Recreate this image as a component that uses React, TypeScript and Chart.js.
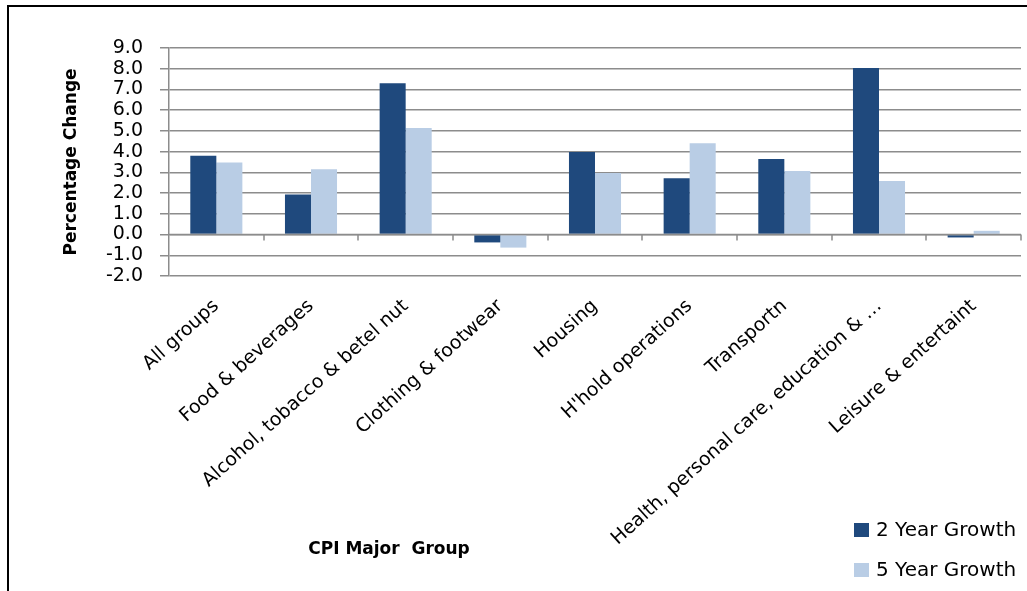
import React, { useEffect, useRef } from "react";
import { Chart, registerables } from "chart.js";

Chart.register(...registerables);

const categories = [
  "All groups",
  "Food & beverages",
  "Alcohol, tobacco & betel nut",
  "Clothing & footwear",
  "Housing",
  "H'hold operations",
  "Transportn",
  "Health, personal care, education & …",
  "Leisure & entertaint",
];
const growth2Year = [3.8, 1.93, 7.3, -0.38, 3.98, 2.72, 3.64, 8.04, -0.14];
const growth5Year = [3.47, 3.15, 5.14, -0.63, 2.97, 4.41, 3.06, 2.58, 0.18];
const seriesNames = ["2 Year Growth", "5 Year Growth"];
const seriesColors = ["#1F497D", "#B9CDE5"];
const yMin = -2;
const yMax = 9;
const yStep = 1;
const xTitle = "CPI Major  Group";
const yTitle = "Percentage Change";

const FONT = "'DejaVu Sans', sans-serif";

const extrasPlugin = {
  id: "extras",
  afterDatasetsDraw(chart: any) {
    const ctx = chart.ctx;
    const xs = chart.scales.x;
    const ys = chart.scales.y;
    const y0 = ys.getPixelForValue(0);
    const n = categories.length;
    const w = (xs.right - xs.left) / n;
    ctx.save();
    ctx.strokeStyle = "#8c8c8c";
    ctx.lineWidth = 1.5;
    ctx.beginPath();
    ctx.moveTo(xs.left, y0);
    ctx.lineTo(xs.right, y0);
    for (let i = 1; i <= n; i++) {
      const x = Math.round(xs.left + i * w);
      ctx.moveTo(x, y0);
      ctx.lineTo(x, y0 + 6);
    }
    ctx.stroke();
    ctx.restore();
  },
  afterDraw(chart: any) {
    const ctx = chart.ctx;
    ctx.save();
    ctx.fillStyle = "#000";
    ctx.font = `bold 17px ${FONT}`;
    ctx.textAlign = "center";
    ctx.textBaseline = "middle";
    ctx.fillText(xTitle, 389, 550);
    ctx.font = `20px ${FONT}`;
    ctx.textAlign = "left";
    seriesNames.forEach((name, i) => {
      const cy = 530 + i * 40;
      ctx.fillStyle = seriesColors[i];
      ctx.fillRect(854, cy - 7, 15, 14);
      ctx.fillStyle = "#000";
      ctx.fillText(name, 876, cy + 1);
    });
    ctx.restore();
  },
};

export default function App() {
  const ref = useRef<HTMLCanvasElement | null>(null);

  useEffect(() => {
    if (!ref.current) return;
    const chart = new Chart(ref.current, {
      type: "bar",
      data: {
        labels: categories,
        datasets: [
          {
            label: seriesNames[0],
            data: growth2Year,
            backgroundColor: seriesColors[0],
            barPercentage: 1,
            categoryPercentage: 0.55,
          },
          {
            label: seriesNames[1],
            data: growth5Year,
            backgroundColor: seriesColors[1],
            barPercentage: 1,
            categoryPercentage: 0.55,
          },
        ],
      },
      options: {
        animation: false,
        responsive: false,
        devicePixelRatio: 1,
        layout: { padding: { left: 57, top: 48, right: 6, bottom: 0 } },
        plugins: {
          legend: { display: false },
          tooltip: { enabled: false },
        },
        scales: {
          x: {
            grid: { display: false, drawTicks: false },
            border: { display: false },
            ticks: {
              autoSkip: false,
              minRotation: 42,
              maxRotation: 42,
              color: "#000",
              font: { family: FONT, size: 19 },
              padding: 19,
            },
            afterFit: (s: any) => {
              s.height = 591 - 276;
            },
          },
          y: {
            min: yMin,
            max: yMax,
            grid: { color: "#8c8c8c", lineWidth: 1.5, tickLength: 9 },
            border: { color: "#8c8c8c", width: 1.5 },
            ticks: {
              autoSkip: false,
              stepSize: yStep,
              color: "#000",
              font: { family: FONT, size: 19 },
              padding: 17,
              callback: (v: any) => Number(v).toFixed(1),
            },
            title: {
              display: true,
              text: yTitle,
              color: "#000",
              font: { family: FONT, size: 17, weight: "bold" },
              padding: { top: 4, bottom: 4 },
            },
            afterFit: (s: any) => {
              s.width = 169 - 57;
            },
          },
        },
      },
      plugins: [extrasPlugin],
    });
    return () => chart.destroy();
  }, []);

  return (
    <div
      style={{
        position: "absolute",
        left: 0,
        top: 0,
        width: 1027,
        height: 591,
        overflow: "hidden",
        background: "#fff",
      }}
    >
      <div
        style={{
          position: "absolute",
          left: 7,
          top: 5,
          width: 1100,
          height: 700,
          borderLeft: "2px solid #000",
          borderTop: "2px solid #000",
        }}
      />
      <canvas
        ref={ref}
        width={1027}
        height={591}
        style={{ position: "absolute", left: 0, top: 0, width: 1027, height: 591 }}
      />
    </div>
  );
}
